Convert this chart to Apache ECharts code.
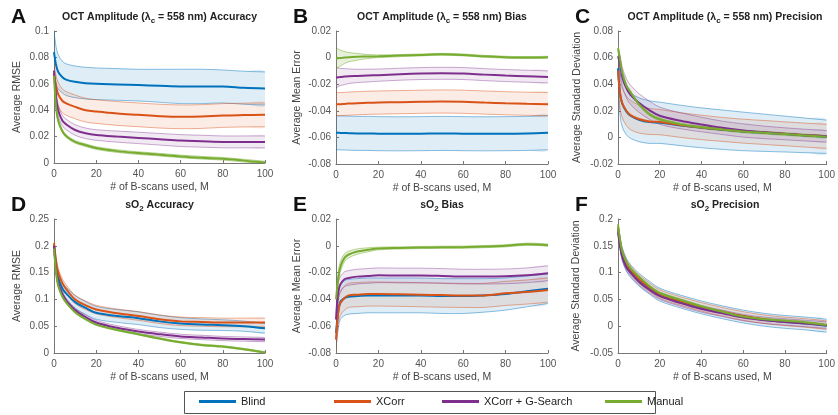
<!DOCTYPE html>
<html>
<head>
<meta charset="utf-8">
<title>OCT Amplitude / sO2 vs B-scans</title>
<script src="https://cdn.jsdelivr.net/npm/echarts@6/dist/echarts.min.js"></script>
<style>
    html, body { margin: 0; padding: 0; background: #fff; }
    #chart { width: 838px; height: 415px; }
</style>
</head>
<body>
<div id="chart"></div>
<script>
// number of B-scans used (x positions of the sampled points)
var M = [0, 1, 2, 4, 6, 10, 15, 20, 30, 40, 50, 60, 70, 80, 90, 100];
var xTicks = [0, 100, 20];

// A: OCT amplitude accuracy (mean and half band)
var aTicks = [0, 0.1, 0.02];
var aBlind     = [0.084, 0.074, 0.069, 0.065, 0.063, 0.0615, 0.0605, 0.060, 0.0595, 0.059, 0.0585, 0.058, 0.058, 0.058, 0.057, 0.0565];
var aBlindSd   = [0.016, 0.014, 0.013, 0.012, 0.012, 0.012, 0.012, 0.012, 0.012, 0.012, 0.0125, 0.013, 0.013, 0.0125, 0.0125, 0.0125];
var aXCorr     = [0.068, 0.058, 0.052, 0.047, 0.045, 0.0425, 0.040, 0.039, 0.0375, 0.0365, 0.0355, 0.035, 0.0352, 0.036, 0.0363, 0.0365];
var aXCorrSd   = [0.007, 0.008, 0.009, 0.009, 0.009, 0.009, 0.009, 0.009, 0.009, 0.009, 0.009, 0.009, 0.009, 0.009, 0.009, 0.009];
var aGSearch   = [0.070, 0.050, 0.040, 0.032, 0.029, 0.025, 0.0225, 0.0212, 0.020, 0.019, 0.018, 0.017, 0.0165, 0.016, 0.016, 0.016];
var aGSearchSd = [0.003, 0.0035, 0.004, 0.004, 0.004, 0.004, 0.004, 0.004, 0.0042, 0.0043, 0.0044, 0.0045, 0.0045, 0.0045, 0.0045, 0.0045];
var aManual    = [0.066, 0.042, 0.032, 0.024, 0.020, 0.016, 0.0135, 0.0113, 0.009, 0.0075, 0.0063, 0.005, 0.004, 0.0032, 0.0018, 0.0003];
var aManualSd  = [0.003, 0.002, 0.0015, 0.0012, 0.001, 0.001, 0.001, 0.001, 0.001, 0.001, 0.001, 0.001, 0.001, 0.001, 0.001, 0.001];

// B: OCT amplitude bias
var bTicks = [-0.08, 0.02, 0.02];
var bBlind     = [-0.0565, -0.0565, -0.0566, -0.0567, -0.0568, -0.057, -0.057, -0.0572, -0.0573, -0.0572, -0.057, -0.0572, -0.0573, -0.0572, -0.057, -0.0565];
var bBlindSd   = [0.0128, 0.0128, 0.0128, 0.0128, 0.0128, 0.0128, 0.0128, 0.0128, 0.0128, 0.0128, 0.0128, 0.0128, 0.0128, 0.0128, 0.0128, 0.0128];
var bXCorr     = [-0.035, -0.035, -0.035, -0.0348, -0.0346, -0.0343, -0.034, -0.0338, -0.0335, -0.0332, -0.033, -0.0332, -0.0338, -0.0343, -0.0347, -0.035];
var bXCorrSd   = [0.0087, 0.0087, 0.0087, 0.0087, 0.0087, 0.0087, 0.0087, 0.0087, 0.0087, 0.0087, 0.0087, 0.0087, 0.0087, 0.0087, 0.0087, 0.0087];
var bGSearch   = [-0.015, -0.0148, -0.0146, -0.0143, -0.014, -0.0138, -0.0135, -0.0132, -0.0125, -0.012, -0.0118, -0.012, -0.0128, -0.0135, -0.014, -0.0145];
var bGSearchSd = [0.008, 0.007, 0.0065, 0.006, 0.0055, 0.005, 0.0048, 0.0046, 0.0045, 0.0045, 0.0045, 0.0045, 0.0045, 0.0045, 0.0045, 0.0045];
var bManual    = [-0.0005, -0.0005, -0.0003, 0, 0.0003, 0.0006, 0.0008, 0.001, 0.0015, 0.002, 0.0025, 0.002, 0.001, 0.0003, 0, 0.0003];
var bManualSd  = [0.0085, 0.007, 0.006, 0.0045, 0.0035, 0.0025, 0.0015, 0.001, 0.0008, 0.0007, 0.0007, 0.0007, 0.0007, 0.0007, 0.0007, 0.0007];

// C: OCT amplitude precision
var cTicks = [-0.02, 0.08, 0.02];
var cBlind     = [0.052, 0.033, 0.0255, 0.0195, 0.0163, 0.0133, 0.0115, 0.011, 0.009, 0.0072, 0.0058, 0.0045, 0.0035, 0.0025, 0.0015, 0.0005];
var cBlindSd   = [0.012, 0.016, 0.0175, 0.0175, 0.017, 0.0165, 0.016, 0.0155, 0.0152, 0.015, 0.0148, 0.0145, 0.014, 0.0135, 0.013, 0.0125];
var cXCorr     = [0.050, 0.033, 0.026, 0.020, 0.0168, 0.0138, 0.012, 0.0115, 0.0093, 0.0075, 0.006, 0.0047, 0.0037, 0.0027, 0.0017, 0.0008];
var cXCorrSd   = [0.010, 0.011, 0.011, 0.011, 0.011, 0.0105, 0.0098, 0.0095, 0.0093, 0.0092, 0.009, 0.009, 0.009, 0.009, 0.009, 0.009];
var cGSearch   = [0.061, 0.055, 0.046, 0.037, 0.032, 0.026, 0.0205, 0.0163, 0.0125, 0.0097, 0.0072, 0.0052, 0.0038, 0.0027, 0.0017, 0.0008];
var cGSearchSd = [0.006, 0.0065, 0.007, 0.0072, 0.0072, 0.007, 0.0068, 0.0065, 0.006, 0.0055, 0.005, 0.005, 0.0047, 0.0045, 0.0044, 0.0043];
var cManual    = [0.067, 0.058, 0.049, 0.039, 0.034, 0.025, 0.0175, 0.0136, 0.0098, 0.0076, 0.006, 0.0045, 0.0035, 0.0025, 0.0015, 0.0005];
var cManualSd  = [0.003, 0.002, 0.0015, 0.001, 0.001, 0.001, 0.001, 0.001, 0.001, 0.001, 0.001, 0.001, 0.001, 0.001, 0.001, 0.001];

// D: sO2 accuracy
var dTicks = [0, 0.25, 0.05];
var dBlind     = [0.200, 0.160, 0.140, 0.120, 0.110, 0.095, 0.084, 0.075, 0.069, 0.065, 0.059, 0.055, 0.053, 0.052, 0.050, 0.046];
var dBlindSd   = [0.010, 0.010, 0.011, 0.012, 0.012, 0.012, 0.012, 0.012, 0.012, 0.012, 0.0115, 0.011, 0.0105, 0.010, 0.0095, 0.009];
var dXCorr     = [0.205, 0.170, 0.150, 0.130, 0.118, 0.100, 0.089, 0.081, 0.074, 0.069, 0.063, 0.059, 0.058, 0.057, 0.057, 0.057];
var dXCorrSd   = [0.010, 0.009, 0.008, 0.008, 0.008, 0.008, 0.008, 0.008, 0.008, 0.008, 0.008, 0.008, 0.008, 0.008, 0.008, 0.008];
var dGSearch   = [0.200, 0.155, 0.130, 0.110, 0.097, 0.080, 0.067, 0.057, 0.047, 0.040, 0.035, 0.031, 0.029, 0.027, 0.026, 0.025];
var dGSearchSd = [0.005, 0.004, 0.004, 0.004, 0.004, 0.004, 0.004, 0.004, 0.004, 0.004, 0.004, 0.004, 0.004, 0.004, 0.004, 0.004];
var dManual    = [0.195, 0.150, 0.125, 0.105, 0.093, 0.076, 0.063, 0.053, 0.043, 0.035, 0.027, 0.020, 0.015, 0.012, 0.007, 0.001];
var dManualSd  = [0.003, 0.002, 0.0015, 0.0015, 0.0015, 0.0015, 0.0015, 0.0015, 0.0015, 0.0015, 0.0015, 0.0015, 0.0015, 0.0015, 0.0015, 0.0015];

// E: sO2 bias
var eTicks = [-0.08, 0.02, 0.02];
var eBlind     = [-0.065, -0.050, -0.042, -0.039, -0.038, -0.0375, -0.037, -0.037, -0.037, -0.037, -0.0375, -0.0375, -0.037, -0.036, -0.034, -0.032];
var eBlindSd   = [0.012, 0.013, 0.013, 0.013, 0.013, 0.013, 0.013, 0.013, 0.013, 0.013, 0.013, 0.013, 0.0125, 0.012, 0.0115, 0.011];
var eXCorr     = [-0.070, -0.050, -0.043, -0.039, -0.037, -0.0365, -0.036, -0.036, -0.0362, -0.0365, -0.0368, -0.037, -0.037, -0.0355, -0.0345, -0.033];
var eXCorrSd   = [0.009, 0.009, 0.009, 0.009, 0.009, 0.009, 0.009, 0.009, 0.009, 0.009, 0.009, 0.009, 0.009, 0.009, 0.009, 0.009];
var eGSearch   = [-0.055, -0.035, -0.029, -0.025, -0.024, -0.023, -0.0225, -0.022, -0.0222, -0.0222, -0.0225, -0.023, -0.023, -0.0228, -0.022, -0.0205];
var eGSearchSd = [0.008, 0.007, 0.006, 0.0055, 0.0055, 0.0055, 0.0055, 0.0055, 0.0055, 0.0055, 0.0055, 0.0055, 0.0055, 0.0055, 0.0055, 0.0055];
var eManual    = [-0.040, -0.025, -0.016, -0.009, -0.0065, -0.0043, -0.003, -0.002, -0.0016, -0.0013, -0.0011, -0.001, -0.0006, 0, 0.0012, 0.0005];
var eManualSd  = [0.005, 0.004, 0.004, 0.003, 0.0025, 0.002, 0.0015, 0.001, 0.0008, 0.0008, 0.0008, 0.0008, 0.0008, 0.0008, 0.0008, 0.0008];

// F: sO2 precision
var fTicks = [-0.05, 0.2, 0.05];
var fBlind     = [0.180, 0.155, 0.135, 0.115, 0.103, 0.087, 0.072, 0.059, 0.046, 0.035, 0.026, 0.018, 0.012, 0.008, 0.005, 0.001];
var fBlindSd   = [0.010, 0.011, 0.012, 0.012, 0.012, 0.012, 0.012, 0.012, 0.012, 0.012, 0.012, 0.012, 0.012, 0.012, 0.012, 0.012];
var fXCorr     = [0.185, 0.158, 0.137, 0.117, 0.105, 0.088, 0.073, 0.060, 0.047, 0.036, 0.027, 0.019, 0.013, 0.009, 0.006, 0.002];
var fXCorrSd   = [0.008, 0.008, 0.008, 0.008, 0.008, 0.008, 0.008, 0.008, 0.008, 0.008, 0.008, 0.008, 0.008, 0.008, 0.008, 0.008];
var fGSearch   = [0.175, 0.150, 0.130, 0.110, 0.100, 0.083, 0.068, 0.056, 0.043, 0.032, 0.024, 0.016, 0.011, 0.008, 0.005, 0.002];
var fGSearchSd = [0.006, 0.006, 0.006, 0.006, 0.006, 0.006, 0.006, 0.006, 0.006, 0.006, 0.006, 0.006, 0.006, 0.006, 0.006, 0.006];
var fManual    = [0.190, 0.160, 0.140, 0.120, 0.108, 0.092, 0.075, 0.062, 0.049, 0.037, 0.027, 0.018, 0.013, 0.010, 0.007, 0.002];
var fManualSd  = [0.003, 0.002, 0.002, 0.002, 0.002, 0.002, 0.002, 0.002, 0.002, 0.002, 0.002, 0.002, 0.002, 0.002, 0.002, 0.002];

var methods = ['Blind', 'XCorr', 'XCorr + G-Search', 'Manual'];
var lineColors = ['#0072BD', '#D95319', '#7E2F8E', '#77AC30'];
var bandFill = ['rgba(0,114,189,0.13)', 'rgba(217,83,25,0.11)', 'rgba(126,47,142,0.10)', 'rgba(119,172,48,0.18)'];
var bandEdge = ['rgba(0,114,189,0.45)', 'rgba(217,83,25,0.45)', 'rgba(126,47,142,0.40)', 'rgba(119,172,48,0.50)'];
var SMOOTH = 0.35;

var FONT = '"Liberation Sans", Arial, sans-serif';
var octTitle = function (s) { return '{b|OCT Amplitude (λ}{s|c}{b| = 558 nm) ' + s + '}'; };
var so2Title = function (s) { return '{b|sO}{s|2}{b| ' + s + '}'; };

var panels = [
    {letter: 'A', title: octTitle('Accuracy'), yName: 'Average RMSE', gap: 31, ticks: aTicks,
     grid: {left: 54, top: 31, width: 211, height: 132},
     means: [aBlind, aXCorr, aGSearch, aManual], sds: [aBlindSd, aXCorrSd, aGSearchSd, aManualSd]},
    {letter: 'B', title: octTitle('Bias'), yName: 'Average Mean Error', gap: 33, ticks: bTicks,
     grid: {left: 336, top: 31, width: 212, height: 133},
     means: [bBlind, bXCorr, bGSearch, bManual], sds: [bBlindSd, bXCorrSd, bGSearchSd, bManualSd]},
    {letter: 'C', title: octTitle('Precision'), yName: 'Average Standard Deviation', gap: 35, ticks: cTicks,
     grid: {left: 618, top: 31, width: 214, height: 133},
     means: [cBlind, cXCorr, cGSearch, cManual], sds: [cBlindSd, cXCorrSd, cGSearchSd, cManualSd]},
    {letter: 'D', title: so2Title('Accuracy'), yName: 'Average RMSE', gap: 31, ticks: dTicks,
     grid: {left: 54, top: 219, width: 211, height: 134},
     means: [dBlind, dXCorr, dGSearch, dManual], sds: [dBlindSd, dXCorrSd, dGSearchSd, dManualSd]},
    {letter: 'E', title: so2Title('Bias'), yName: 'Average Mean Error', gap: 33, ticks: eTicks,
     grid: {left: 336, top: 219, width: 212, height: 134},
     means: [eBlind, eXCorr, eGSearch, eManual], sds: [eBlindSd, eXCorrSd, eGSearchSd, eManualSd]},
    {letter: 'F', title: so2Title('Precision'), yName: 'Average Standard Deviation', gap: 36, ticks: fTicks,
     grid: {left: 618, top: 219, width: 214, height: 134},
     means: [fBlind, fXCorr, fGSearch, fManual], sds: [fBlindSd, fXCorrSd, fGSearchSd, fManualSd]}
];

// shaded band (mean +/- sd) drawn once per series through the axis scales
function bandSeries(i, k, mean, sd) {
    var pts = M.map(function (m, j) { return [m, mean[j] - sd[j], mean[j] + sd[j]]; });
    return {
        type: 'custom', name: methods[k] + ' band', xAxisIndex: i, yAxisIndex: i,
        silent: true, z: 1, clip: true,
        encode: {x: 0, y: [1, 2]},
        data: pts,
        renderItem: function (params, api) {
            if (params.dataIndex !== 0) return null;
            var top = pts.map(function (d) { return api.coord([d[0], d[2]]); });
            var bot = pts.map(function (d) { return api.coord([d[0], d[1]]); });
            var cs = params.coordSys;
            var lim = [[cs.x, -1e4], [cs.x + cs.width, 1e4]];
            return {
                type: 'group',
                children: [
                    {type: 'polygon', shape: {points: top.concat(bot.slice().reverse()), smooth: SMOOTH, smoothConstraint: lim},
                     style: {fill: bandFill[k], stroke: null}},
                    {type: 'polyline', shape: {points: top, smooth: SMOOTH, smoothConstraint: lim},
                     style: {fill: null, stroke: bandEdge[k], lineWidth: 1}},
                    {type: 'polyline', shape: {points: bot, smooth: SMOOTH, smoothConstraint: lim},
                     style: {fill: null, stroke: bandEdge[k], lineWidth: 1}}
                ]
            };
        }
    };
}

var grids = [], xAxes = [], yAxes = [], titles = [], series = [];

panels.forEach(function (p, i) {
    var g = p.grid;
    grids.push({left: g.left, top: g.top, width: g.width, height: g.height, containLabel: false});
    // panel letter and title
    titles.push({
        text: p.letter, left: g.left - 43, top: g.top - 24, padding: 0,
        textStyle: {fontFamily: FONT, fontSize: 21, fontWeight: 'bold', color: '#111'}
    });
    titles.push({
        text: p.title, left: g.left + g.width / 2, top: g.top - 21, textAlign: 'center', padding: 0,
        textStyle: {
            rich: {
                b: {fontFamily: FONT, fontSize: 10.5, fontWeight: 'bold', color: '#222'},
                s: {fontFamily: FONT, fontSize: 8, fontWeight: 'bold', color: '#222', padding: [7, 0, 0, 0]}
            }
        }
    });
    xAxes.push({
        gridIndex: i, type: 'value', min: xTicks[0], max: xTicks[1], interval: xTicks[2],
        name: '# of B-scans used, M', nameLocation: 'middle', nameGap: 19,
        nameTextStyle: {fontFamily: FONT, fontSize: 10.5, color: '#444'},
        axisLine: {onZero: false, lineStyle: {color: '#777', width: 1}},
        axisTick: {inside: true, length: 3, lineStyle: {color: '#777'}},
        axisLabel: {fontFamily: FONT, fontSize: 10, color: '#555', margin: 6},
        splitLine: {show: false}
    });
    yAxes.push({
        gridIndex: i, type: 'value', min: p.ticks[0], max: p.ticks[1], interval: p.ticks[2],
        name: p.yName, nameLocation: 'middle', nameGap: p.gap,
        nameTextStyle: {fontFamily: FONT, fontSize: 10.5, color: '#444'},
        axisLine: {show: true, onZero: false, lineStyle: {color: '#777', width: 1}},
        axisTick: {show: true, inside: true, length: 3, lineStyle: {color: '#777'}},
        axisLabel: {fontFamily: FONT, fontSize: 10, color: '#555', margin: 5},
        splitLine: {show: false}
    });

    p.means.forEach(function (mean, k) {
        series.push(bandSeries(i, k, mean, p.sds[k]));
    });
    p.means.forEach(function (mean, k) {
        series.push({
            type: 'line', name: methods[k], xAxisIndex: i, yAxisIndex: i,
            smooth: SMOOTH, symbol: 'none', z: 3,
            itemStyle: {color: lineColors[k]},
            lineStyle: {color: lineColors[k], width: 2},
            data: M.map(function (m, j) { return [m, mean[j]]; })
        });
    });
});

// one legend per entry so the spacing follows the original box
var legendLeft = [199, 334, 442, 605];
var legends = methods.map(function (m, k) {
    return {
        data: [m], left: legendLeft[k], top: 396, padding: 0, selectedMode: false,
        icon: 'rect', itemWidth: 37, itemHeight: 3, itemGap: 0,
        textStyle: {fontFamily: FONT, fontSize: 11, color: '#222'}
    };
});

var chart = echarts.init(document.getElementById('chart'));
chart.setOption({
    animation: false,
    backgroundColor: '#fff',
    title: titles,
    grid: grids,
    xAxis: xAxes,
    yAxis: yAxes,
    legend: legends,
    graphic: [{
        type: 'rect', shape: {x: 184.5, y: 391.5, width: 471, height: 22},
        style: {fill: 'none', stroke: '#555', lineWidth: 1}, silent: true
    }],
    series: series
});
</script>
</body>
</html>
